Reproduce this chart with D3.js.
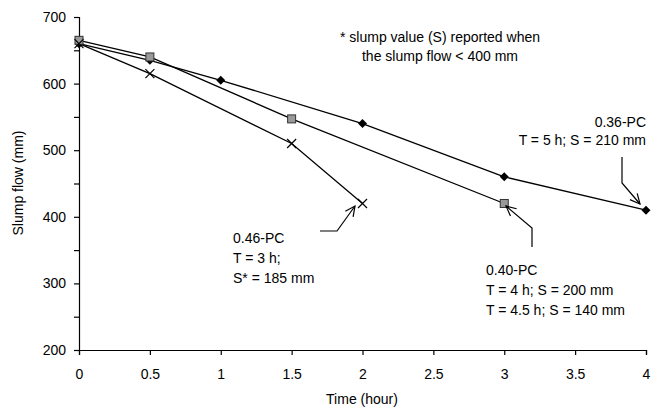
<!DOCTYPE html>
<html><head><meta charset="utf-8">
<script src="https://cdn.jsdelivr.net/npm/d3@7"></script>
<style>body{margin:0;background:#fff}svg{display:block}text{font-family:"Liberation Sans",Arial,sans-serif}</style>
</head><body>
<svg id="c" width="652" height="411"></svg>
<script>
const xTicks = [0,0.5,1,1.5,2,2.5,3,3.5,4];
const xTickLabels = ["0","0.5","1","1.5","2","2.5","3","3.5","4"];
const yTicks = [200,300,400,500,600,700];
const pc036Time = [0,0.5,1,2,3,4];
const pc036Flow = [660,635,605,540,460,410];
const pc040Time = [0,0.5,1.5,3];
const pc040Flow = [665,640,547,420];
const pc046Time = [0,0.5,1.5,2];
const pc046Flow = [660,615,510,420];

const svg = d3.select("#c");
const x = d3.scaleLinear().domain([0,4]).range([79,646]);
const y = d3.scaleLinear().domain([200,700]).range([350,17]);

// axes
const xa = svg.append("g").attr("transform","translate(0,350)")
  .call(d3.axisBottom(x).tickValues(xTicks).tickFormat((d,i)=>xTickLabels[i]).tickSizeOuter(0).tickSize(5).tickPadding(14));
const ya = svg.append("g").attr("transform","translate(79,0)")
  .call(d3.axisLeft(y).tickValues(d3.range(200,701,50)).tickFormat(d=>yTicks.includes(d)?d:"").tickSizeOuter(0).tickSize(5).tickPadding(8));
[xa,ya].forEach(a=>{a.selectAll("path,line").attr("stroke","#000").attr("stroke-width",1.2);
  a.selectAll("text").attr("font-size",14).attr("fill","#000").style("font-family","Liberation Sans, Arial, sans-serif");});

svg.append("text").attr("x",362).attr("y",404).attr("text-anchor","middle").attr("font-size",14).text("Time (hour)");
svg.append("text").attr("transform","translate(23,183) rotate(-90)").attr("text-anchor","middle").attr("font-size",14).text("Slump flow (mm)");

const line = d3.line().x(d=>x(d[0])).y(d=>y(d[1]));
const series = [
  {t:pc036Time,f:pc036Flow,m:"diamond"},
  {t:pc040Time,f:pc040Flow,m:"square"},
  {t:pc046Time,f:pc046Flow,m:"x"}
];
series.forEach(s=>{
  const pts = s.t.map((t,i)=>[t,s.f[i]]);
  svg.append("path").datum(pts).attr("d",line).attr("fill","none").attr("stroke","#000").attr("stroke-width",1.3);
});
series.forEach(s=>{
  const pts = s.t.map((t,i)=>[t,s.f[i]]);
  pts.forEach(p=>{
    const cx=x(p[0]), cy=y(p[1]);
    if(s.m==="diamond"){
      svg.append("path").attr("d",`M${cx},${cy-4.5}L${cx+4.5},${cy}L${cx},${cy+4.5}L${cx-4.5},${cy}Z`).attr("fill","#000");
    } else if(s.m==="square"){
      svg.append("rect").attr("x",cx-4).attr("y",cy-4).attr("width",8).attr("height",8).attr("fill","#999").attr("stroke","#333").attr("stroke-width",1);
    } else {
      svg.append("path").attr("d",`M${cx-4.5},${cy-4.5}L${cx+4.5},${cy+4.5}M${cx-4.5},${cy+4.5}L${cx+4.5},${cy-4.5}`).attr("stroke","#000").attr("stroke-width",1.2);
    }
  });
});

function txt(xp,yp,s,anchor){svg.append("text").attr("x",xp).attr("y",yp).attr("font-size",14).attr("text-anchor",anchor||"start").text(s);}
txt(440,42,"* slump value (S) reported when","middle");
txt(440,61,"the slump flow < 400 mm","middle");
txt(646,127,"0.36-PC","end");
txt(646,145,"T = 5 h; S = 210 mm","end");
txt(233,243,"0.46-PC");
txt(233,263,"T = 3 h;");
txt(233,283,"S* = 185 mm");
txt(486,275,"0.40-PC");
txt(486,295,"T = 4 h; S = 200 mm");
txt(486,315,"T = 4.5 h; S = 140 mm");

function arrow(points){
  svg.append("path").attr("d",d3.line()(points)).attr("fill","none").attr("stroke","#000").attr("stroke-width",1.2);
  const [a,b]=points.slice(-2);
  const ang=Math.atan2(b[1]-a[1],b[0]-a[0]);
  const L=11, w=0.45;
  const p1=[b[0]-L*Math.cos(ang-w),b[1]-L*Math.sin(ang-w)];
  const p2=[b[0]-L*Math.cos(ang+w),b[1]-L*Math.sin(ang+w)];
  svg.append("path").attr("d",`M${p1}L${b}L${p2}`).attr("fill","none").attr("stroke","#000").attr("stroke-width",1.2);
}
arrow([[622,157],[622,183],[640,204]]);
arrow([[320,231],[337,231],[355,206]]);
arrow([[532,247],[532,228],[506,206]]);
</script>
</body></html>
